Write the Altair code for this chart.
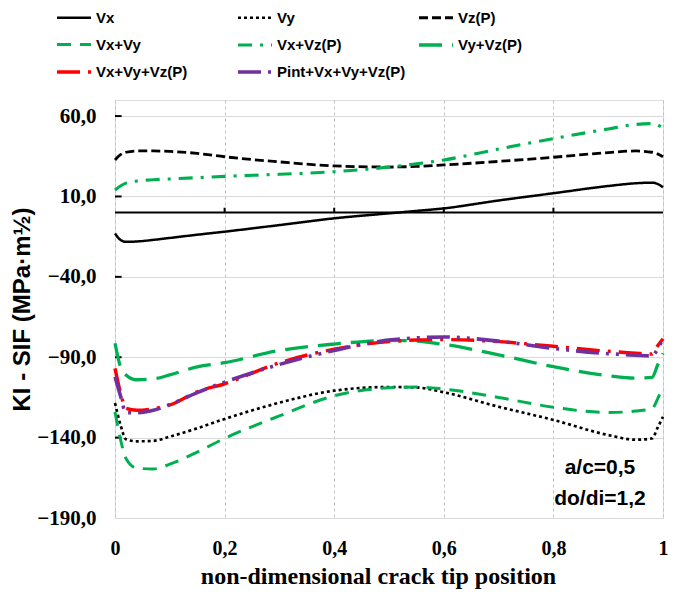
import altair as alt
import pandas as pd

# ---- data ----
x_pos = [0, 0.01, 0.02, 0.04, 0.07, 0.1, 0.15, 0.2, 0.3, 0.4, 0.5, 0.55, 0.6, 0.7, 0.8, 0.9, 0.95, 0.98, 0.99, 1.0]

vx = [-13, -17, -18.2, -18, -17, -15.8, -13.8, -11.9, -7.8, -3.6, -0.5, 1, 2.6, 7.5, 12, 16.5, 18.2, 18.6, 17.8, 15.7]
vy = [-118.5, -132, -141, -142.3, -142, -139.4, -134.2, -128.4, -118.3, -110.8, -108.5, -108.8, -111.8, -120.8, -129, -138.4, -141.3, -140.5, -134, -127]
vz = [32.7, 36, 37.5, 38.3, 38.3, 38, 36.8, 34.7, 31.5, 29, 28.3, 28.7, 29.6, 31.8, 34.4, 37.3, 38.3, 37.5, 36.5, 34.7]
vx_vy = [-124, -141, -153, -159, -159.5, -156.5, -149, -140.5, -126.5, -114, -109, -108.5, -109.8, -115, -121.1, -124.4, -123.5, -122, -116, -108]
vx_vz = [14, 16.5, 18.3, 19.6, 20.4, 20.9, 21.7, 22.5, 23.8, 25.4, 28.3, 30.3, 32.7, 39.5, 46, 52, 54.8, 55.3, 54.5, 52.4]
vy_vz = [-81.3, -96, -101, -104, -103.5, -101, -96, -93.4, -85.8, -81.8, -79.5, -80, -82, -88.5, -95.9, -101.5, -103, -102.5, -95, -87.6]
vx_vy_vz = [-96.9, -112, -121.8, -123, -122, -119.7, -111.5, -106.5, -93.5, -85, -80.3, -79.3, -79, -80.3, -83.2, -86.3, -87.5, -88, -83, -78.5]
pint_all = [-102.1, -114, -124.5, -124.5, -123, -119.5, -112, -105.5, -94.5, -85.8, -79.3, -78, -77.4, -80, -84.5, -87.8, -88.7, -89.2, -85, -78.2]

series_names = ["Vx", "Vy", "Vz(P)", "Vx+Vy", "Vx+Vz(P)", "Vy+Vz(P)", "Vx+Vy+Vz(P)", "Pint+Vx+Vy+Vz(P)"]
series_values = [vx, vy, vz, vx_vy, vx_vz, vy_vz, vx_vy_vz, pint_all]
series_colors = ["#000000", "#000000", "#000000", "#00B050", "#00B050", "#00B050", "#FF0000", "#7030A0"]
series_dashes = [[1, 0], [3, 3], [9, 4], [14, 9], [14, 8, 3, 8], [23, 10], [23, 8, 3, 8], [23, 7, 3, 7, 3, 7]]
series_widths = [2.5, 3.6, 3.5, 3.5, 3.5, 3.5, 3.5, 3.5]

y_ticks = [-190, -140, -90, -40, 10, 60]
x_ticks = [0, 0.2, 0.4, 0.6, 0.8, 1.0]
inner_x_ticks = [0.2, 0.4, 0.6, 0.8]

note_x = [0.885, 0.885]
note_y = [-159, -178]
note_text = ["a/c=0,5", "do/di=1,2"]

# ---- tables ----
rows = []
for name, vals in zip(series_names, series_values):
    for xv, yv in zip(x_pos, vals):
        rows.append({"x": xv, "v": yv, "series": name, "order": series_names.index(name)})
df = pd.DataFrame(rows)

xscale = alt.Scale(domain=[0, 1], nice=False, zero=False)
yscale = alt.Scale(domain=[-190, 70], nice=False, zero=False)

SERIF = "Liberation Serif, Times New Roman, Times, serif"
SANS = "Liberation Sans, Arial, sans-serif"

x_axis = alt.Axis(
    values=x_ticks,
    labelExpr="datum.value == 0 ? '0' : datum.value == 1 ? '1' : replace(format(datum.value, '.1f'), '.', ',')",
    grid=True, gridDash=[3, 3], gridColor="#c0c0c0", gridWidth=1,
    domain=False, ticks=False, labelFlush=False,
    labelFont=SERIF, labelFontWeight="bold", labelFontSize=20, labelColor="black", labelPadding=20,
    title="non-dimensional crack tip position",
    titleFont=SERIF, titleFontWeight="bold", titleFontSize=24, titleColor="black",
    titleX=263, titleY=65, titleBaseline="alphabetic", titleAlign="center",
)
y_axis = alt.Axis(
    values=y_ticks,
    labelExpr="replace(format(datum.value, '.1f'), '.', ',')",
    grid=True, gridColor="#d9d9d9", gridWidth=1,
    domain=False, ticks=False, labelFlush=False,
    labelFont=SERIF, labelFontWeight="bold", labelFontSize=21, labelColor="black", labelPadding=19,
    title="KI - SIF (MPa·m½)",
    titleFont=SANS, titleFontWeight="bold", titleFontSize=24, titleColor="black",
    titleX=-93, titleY=209, titleBaseline="middle", titleAlign="center", titleAngle=270,
)

legend = alt.Legend(
    title=None, orient="none", legendX=-60, legendY=-101, columns=3, direction="horizontal",
    gridAlign="all",
    symbolType="stroke", symbolSize=1156, symbolStrokeWidth=3.5,
    labelFont=SANS, labelFontSize=15, labelFontWeight="bold", labelColor="black",
    labelOffset=3, rowPadding=-7, columnPadding=5, labelLimit=300, padding=0,
)

lines = alt.Chart(df).mark_line(interpolate="monotone").encode(
    x=alt.X("x:Q", scale=xscale, axis=x_axis),
    y=alt.Y("v:Q", scale=yscale, axis=y_axis),
    color=alt.Color("series:N", scale=alt.Scale(domain=series_names, range=series_colors), legend=legend),
    strokeDash=alt.StrokeDash("series:N", scale=alt.Scale(domain=series_names, range=series_dashes), legend=legend),
    strokeWidth=alt.StrokeWidth("series:N", scale=alt.Scale(domain=series_names, range=series_widths), legend=None),
    order=alt.Order("order:Q"),
    detail="series:N",
)

zero_df = pd.DataFrame({"a": [0], "b": [1], "y": [0]})
zero_line = alt.Chart(zero_df).mark_rule(color="black", strokeWidth=2).encode(
    x=alt.X("a:Q", scale=xscale), x2="b:Q", y=alt.Y("y:Q", scale=yscale)
)

zt_df = pd.DataFrame({"x": inner_x_ticks, "y0": [0] * 4, "y1": [3] * 4})
zero_ticks = alt.Chart(zt_df).mark_rule(color="black", strokeWidth=2).encode(
    x=alt.X("x:Q", scale=xscale), y=alt.Y("y0:Q", scale=yscale), y2="y1:Q"
)

yt_df = pd.DataFrame({"x0": [0] * 5, "x1": [0.012] * 5, "y": y_ticks[1:]})
y_inner_ticks = alt.Chart(yt_df).mark_rule(color="black", strokeWidth=2).encode(
    x=alt.X("x0:Q", scale=xscale), x2="x1:Q", y=alt.Y("y:Q", scale=yscale)
)

notes_df = pd.DataFrame({"x": note_x, "y": note_y, "t": note_text})
notes = alt.Chart(notes_df).mark_text(
    font=SANS, fontWeight="bold", fontSize=21, color="black", align="center", baseline="middle"
).encode(x=alt.X("x:Q", scale=xscale), y=alt.Y("y:Q", scale=yscale), text="t:N")

chart = alt.layer(zero_line, zero_ticks, y_inner_ticks, lines, notes).properties(
    width=548, height=418,
    autosize=alt.AutoSizeParams(type="none"),
    padding={"left": 115, "top": 100, "right": 21, "bottom": 74},
).configure_view(stroke="black", strokeWidth=3).configure(background="white")

chart.save("out.html", embed_options={"renderer": "svg", "actions": False})
